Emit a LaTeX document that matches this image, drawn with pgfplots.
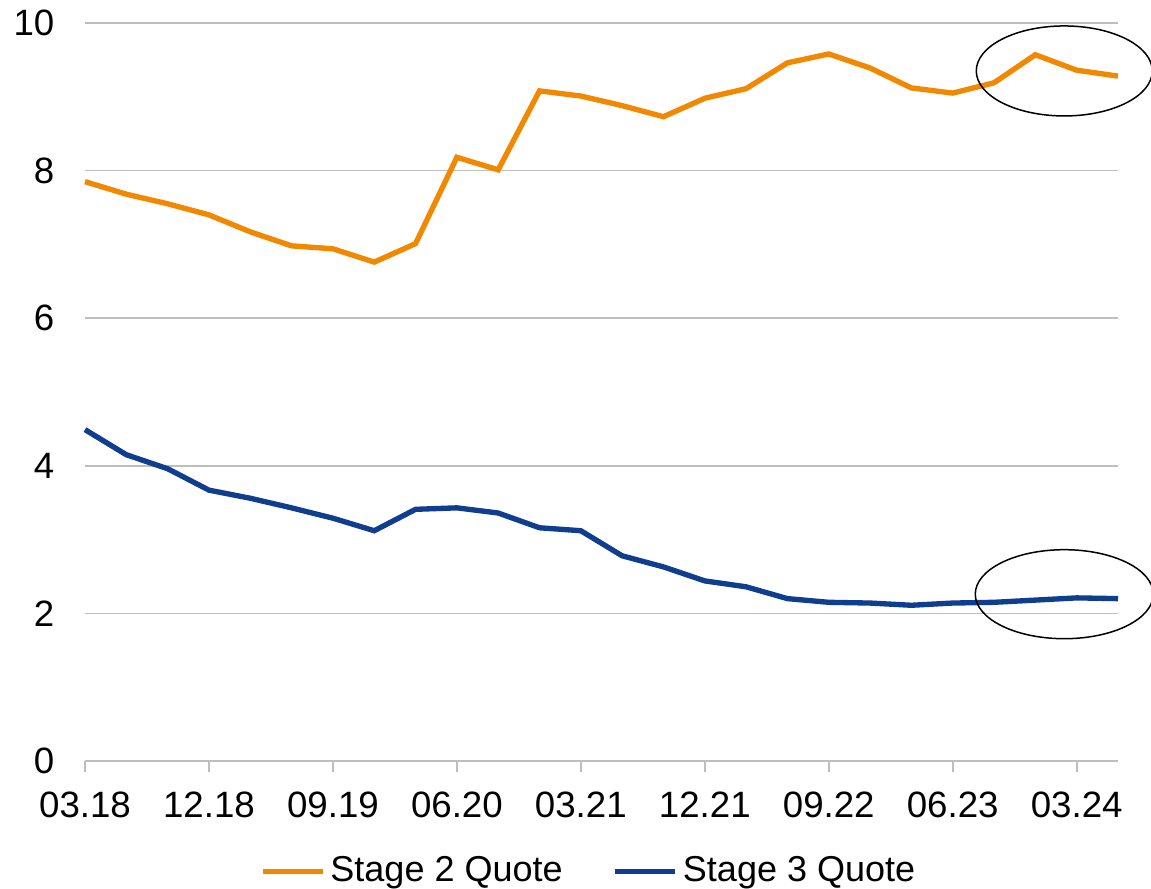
\documentclass[border=0pt]{standalone}
\usepackage{fontspec}
\setmainfont{Liberation Sans}
\usepackage{pgfplots}
\pgfplotsset{compat=1.18}
\definecolor{stageorange}{RGB}{242,135,0}
\definecolor{stageblue}{RGB}{16,62,142}
\definecolor{gridgray}{RGB}{190,190,190}

\begin{document}
\fontsize{10.8}{13}\selectfont
\begin{tikzpicture}
% page = 1151x889 px at 0.3pt per px, axis box starts at (85,761)
\path[use as bounding box] (-25.5pt,-38.4pt) rectangle (319.8pt,228.3pt);
\begin{axis}[
    at={(0pt,0pt)}, anchor=south west,
    scale only axis,
    width=309.9pt, height=221.4pt,
    xmin=0, xmax=25, ymin=0, ymax=10,
    clip=false,
    axis lines*=left,
    y axis line style={draw=none},
    x axis line style={gridgray, line width=0.5pt},
    xtick={0,3,...,24},
    xticklabels={03.18,12.18,09.19,06.20,03.21,12.21,09.22,06.23,03.24},
    ytick={0,2,...,10},
    tick align=outside,
    major tick length=3.3pt,
    xtick style={gridgray, line width=0.5pt},
    ytick style={draw=none},
    ymajorgrids,
    grid style={gridgray, line width=0.45pt},
    tick label style={font=\fontsize{11}{13}\selectfont},
    /pgf/number format/assume math mode=true,
    yticklabel style={xshift=-2.1pt},
    xticklabel style={yshift=-2.1pt},
    legend style={at={(0.489,-0.15)}, anchor=center, draw=none,
        fill=none, font=\fontsize{10.8}{13}\selectfont,
        nodes={inner sep=1.5pt},
        /tikz/every even column/.append style={column sep=13.5pt}},
    legend columns=2,
    legend image code/.code={\draw[#1] (0pt,0pt) -- (18pt,0pt);},
]
\addplot[stageorange, line width=1.6pt] coordinates {
    (0,7.85) (1,7.68) (2,7.55) (3,7.40) (4,7.17) (5,6.98) (6,6.94)
    (7,6.76) (8,7.01) (9,8.18) (10,8.01) (11,9.08) (12,9.01) (13,8.88)
    (14,8.73) (15,8.98) (16,9.11) (17,9.46) (18,9.58) (19,9.39) (20,9.12)
    (21,9.05) (22,9.19) (23,9.57) (24,9.36) (25,9.28)
};
\addlegendentry{Stage 2 Quote}
\addplot[stageblue, line width=1.6pt] coordinates {
    (0,4.49) (1,4.15) (2,3.96) (3,3.67) (4,3.56) (5,3.43) (6,3.29)
    (7,3.12) (8,3.41) (9,3.43) (10,3.36) (11,3.16) (12,3.12) (13,2.78)
    (14,2.63) (15,2.44) (16,2.36) (17,2.20) (18,2.15) (19,2.14) (20,2.11)
    (21,2.14) (22,2.15) (23,2.18) (24,2.21) (25,2.20)
};
\addlegendentry{Stage 3 Quote}
% circled last quarters
\draw[black, line width=0.45pt] (axis cs:23.7,9.35) ellipse [x radius=26.4pt, y radius=13.5pt];
\draw[black, line width=0.45pt] (axis cs:23.7,2.26) ellipse [x radius=26.7pt, y radius=13.35pt];
\end{axis}
\end{tikzpicture}
\end{document}
